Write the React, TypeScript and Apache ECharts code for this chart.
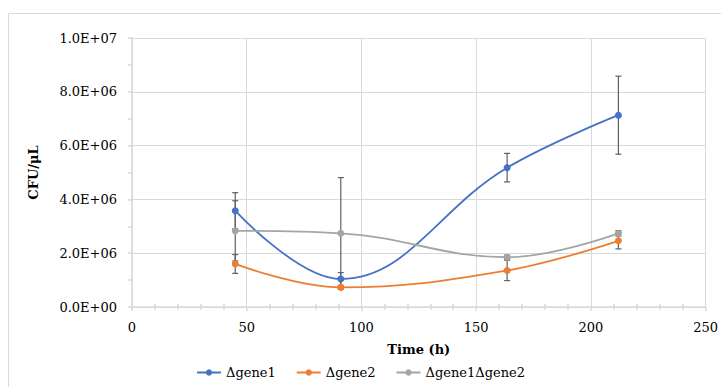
import React, { useEffect, useRef } from "react";
import * as echarts from "echarts";

const seriesNames = ["Δgene1", "Δgene2", "Δgene1Δgene2"];
const colors = ["#4472C4", "#ED7D31", "#A5A5A5"];
const times = [45, 91, 163.5, 212];
const gene1 = [3.58e6, 1.04e6, 5.18e6, 7.13e6];
const gene1Err = [0.67e6, 0.24e6, 0.53e6, 1.45e6];
const gene2 = [1.6e6, 0.73e6, 1.36e6, 2.46e6];
const gene2Err = [0.35e6, 0.05e6, 0.38e6, 0.3e6];
const gene12 = [2.83e6, 2.74e6, 1.85e6, 2.74e6];
const gene12Err = [1.12e6, 2.07e6, 0.08e6, 0.1e6];

const fontFamily = "DejaVu Serif";

function fmt(v: number): string {
  const [m, e] = v.toExponential(1).split("e");
  const sign = e[0] === "-" ? "-" : "+";
  const d = e.replace(/[+-]/, "").padStart(2, "0");
  return m.toUpperCase() + "E" + sign + d;
}

export default function App() {
  const ref = useRef<HTMLDivElement>(null);
  useEffect(() => {
    document.body.style.margin = "0";
    const chart = echarts.init(ref.current!, undefined, { renderer: "svg" });
    const vals = [gene1, gene2, gene12];
    const errs = [gene1Err, gene2Err, gene12Err];
    const lineSeries = vals.map((v, i) => ({
      name: seriesNames[i],
      type: "line",
      data: times.map((t, j) => [t, v[j]]),
      smooth: 0.4,
      symbol: "circle",
      symbolSize: 7,
      itemStyle: { color: colors[i] },
      lineStyle: { color: colors[i], width: 1.8 },
      z: 3,
    }));
    const errSeries = vals.map((v, i) => ({
      name: seriesNames[i] + "_err",
      type: "custom",
      data: times.map((t, j) => [t, v[j] - errs[i][j], v[j] + errs[i][j]]),
      renderItem: (params: any, api: any) => {
        const x = api.value(0);
        const lo = api.coord([x, api.value(1)]);
        const hi = api.coord([x, api.value(2)]);
        const w = 3;
        const style = { stroke: "#5f5f5f", lineWidth: 1.2 };
        return {
          type: "group",
          children: [
            { type: "line", shape: { x1: lo[0], y1: lo[1], x2: hi[0], y2: hi[1] }, style },
            { type: "line", shape: { x1: lo[0] - w, y1: lo[1], x2: lo[0] + w, y2: lo[1] }, style },
            { type: "line", shape: { x1: hi[0] - w, y1: hi[1], x2: hi[0] + w, y2: hi[1] }, style },
          ],
        };
      },
      z: 2,
      silent: true,
    }));
    const axisColor = "#d9d9d9";
    chart.setOption({
      animation: false,
      backgroundColor: "#ffffff",
      graphic: [
        {
          type: "rect",
          shape: { x: 8.5, y: 13.5, width: 800, height: 500 },
          style: { fill: "none", stroke: "#d9d9d9", lineWidth: 1 },
          silent: true,
        },
      ],
      grid: { left: 132, right: 14, top: 38, bottom: 80 },
      legend: {
        data: seriesNames,
        bottom: 3,
        left: "center",
        itemWidth: 24,
        itemHeight: 8,
        itemGap: 20,
        textStyle: { fontFamily, fontSize: 13, color: "#000" },
      },
      xAxis: [
        {
          type: "value",
          min: 0,
          max: 250,
          interval: 50,
          name: "Time (h)",
          nameLocation: "middle",
          nameGap: 36,
          nameTextStyle: { fontFamily, fontSize: 13, fontWeight: "bold", color: "#000" },
          axisLine: { show: true, lineStyle: { color: axisColor, width: 1.5 } },
          axisTick: { show: true, length: 4, lineStyle: { color: axisColor, width: 1.5 } },
          minorTick: { show: true, splitNumber: 5, length: 3, lineStyle: { color: axisColor, width: 1.5 } },
          splitLine: { show: true, lineStyle: { color: axisColor, width: 1 } },
          axisLabel: { fontFamily, fontSize: 13, color: "#000", margin: 14 },
        },
        {
          type: "value",
          min: 0,
          max: 250,
          interval: 50,
          position: "bottom",
          axisLine: { show: false },
          axisTick: { show: false, inside: true },
          minorTick: { show: true, splitNumber: 5, length: 3, lineStyle: { color: axisColor, width: 1.5 } },
          splitLine: { show: false },
          axisLabel: { show: false },
        },
      ],
      yAxis: [
        {
          type: "value",
          min: 0,
          max: 1e7,
          interval: 2e6,
          name: "CFU/μL",
          nameLocation: "middle",
          nameGap: 92,
          nameTextStyle: { fontFamily, fontSize: 13, fontWeight: "bold", color: "#000" },
          axisLine: { show: true, lineStyle: { color: axisColor, width: 1.5 } },
          axisTick: { show: true, length: 4, lineStyle: { color: axisColor, width: 1.5 } },
          minorTick: { show: true, splitNumber: 2, length: 4, lineStyle: { color: axisColor, width: 1.5 } },
          splitLine: { show: true, lineStyle: { color: axisColor, width: 1 } },
          axisLabel: { fontFamily, fontSize: 13, color: "#000", margin: 15, formatter: (v: number) => fmt(v) },
        },
      ],
      series: [...errSeries, ...lineSeries],
    });
    return () => chart.dispose();
  }, []);
  return <div ref={ref} style={{ width: 721, height: 387 }} />;
}
